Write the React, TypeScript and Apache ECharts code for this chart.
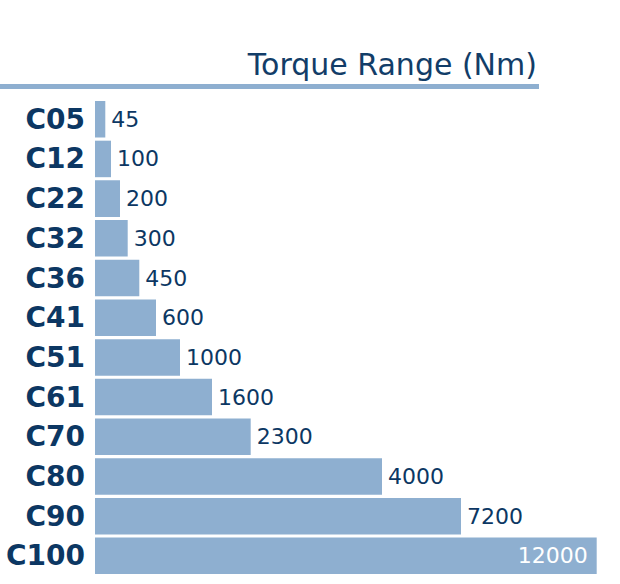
import React, { useEffect, useRef } from 'react';
import * as echarts from 'echarts';

// Coupling sizes and their torque ratings
const sizes = ['C05', 'C12', 'C22', 'C32', 'C36', 'C41', 'C51', 'C61', 'C70', 'C80', 'C90', 'C100'];
const torqueValues = [45, 100, 200, 300, 450, 600, 1000, 1600, 2300, 4000, 7200, 12000];
// Bar lengths as drawn in the picture (the bars are not to a linear torque scale)
const barLengths = [10.3, 16, 25, 32.7, 44.3, 61, 85, 117, 155.7, 287, 366, 501.7];

const chartTitle = 'Torque Range (Nm)';

const NAVY = '#0c3763';
const BAR = '#8eafd0';
const FONT = '"DejaVu Sans", sans-serif';

const App: React.FC = () => {
  const chartRef = useRef<HTMLDivElement>(null);

  useEffect(() => {
    if (!chartRef.current) return;
    const chart = echarts.init(chartRef.current, undefined, { renderer: 'svg' });

    const last = sizes.length - 1;

    const option = {
      animation: false,
      grid: { left: 95, right: 23.3, top: 99.4, bottom: 8.3, containLabel: false },
      xAxis: {
        type: 'value',
        min: 0,
        max: barLengths[last],
        show: false
      },
      yAxis: {
        type: 'category',
        data: sizes,
        inverse: true,
        axisLine: { show: false },
        axisTick: { show: false },
        axisLabel: {
          margin: 10,
          color: NAVY,
          fontSize: 28,
          fontWeight: 'bold',
          fontFamily: FONT
        }
      },
      graphic: [
        {
          type: 'text',
          style: {
            text: chartTitle,
            x: 537,
            y: 64,
            align: 'right',
            verticalAlign: 'middle',
            fontSize: 30,
            fontFamily: FONT,
            fill: '#123d68'
          }
        },
        {
          type: 'rect',
          shape: { x: 0, y: 84, width: 539, height: 5 },
          style: { fill: BAR }
        }
      ],
      series: [
        {
          type: 'bar',
          barCategoryGap: '8%',
          itemStyle: { color: BAR },
          label: {
            show: true,
            position: 'right',
            distance: 6,
            color: NAVY,
            fontSize: 22,
            fontFamily: FONT,
            formatter: (p: any) => String(torqueValues[p.dataIndex])
          },
          data: barLengths.map((v, i) =>
            i === last
              ? {
                  value: v,
                  label: { position: 'insideRight', distance: 9, color: '#ffffff' }
                }
              : v
          )
        }
      ]
    };

    chart.setOption(option);
    return () => chart.dispose();
  }, []);

  return (
    <div
      ref={chartRef}
      style={{ position: 'absolute', left: 0, top: 0, width: 620, height: 584 }}
    />
  );
};

export default App;
